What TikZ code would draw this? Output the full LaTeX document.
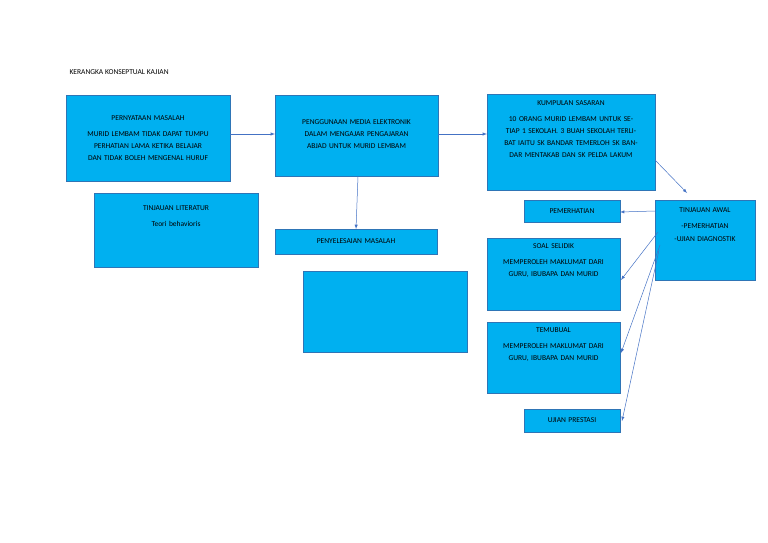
\documentclass[tikz,border=0pt]{standalone}
\usepackage{fontspec}
\setmainfont{Carlito}
\begin{document}
\begin{tikzpicture}[x=1pt,y=-1pt,
  box/.style={draw=black!40!cyan!70!blue,fill=cyan!70!blue!30!cyan,line width=0.6pt,inner sep=0pt},
  boxc/.style={fill={rgb,255:red,0;green,176;blue,240},draw={rgb,255:red,46;green,117;blue,182},line width=0.5pt},
  txt/.style={font=\fontsize{7.5}{12}\selectfont,align=center,text width=#1},
  arr/.style={draw={rgb,255:red,68;green,114;blue,196},line width=0.5pt,-latex}]
\useasboundingbox (0,0) rectangle (768,543);
\node[anchor=west,font=\fontsize{7.5}{9}\selectfont] (title) at (66,72) {KERANGKA KONSEPTUAL KAJIAN};
% boxes
\path[boxc] (66,95) rectangle (230,181) node[pos=.5,txt=160pt] (a) {PERNYATAAN MASALAH\\[4pt]MURID LEMBAM TIDAK DAPAT TUMPU PERHATIAN LAMA KETIKA BELAJAR DAN TIDAK BOLEH MENGENAL HURUF};
\coordinate (aE) at (230,134);
\path[boxc] (94,193) rectangle (258,267);
\node[txt=160pt,anchor=north] (lit) at (176,202) {TINJAUAN LITERATUR\\[4pt]Teori behavioris};
\path[boxc] (275,95) rectangle (438,176);
\node[txt=155pt] (b) at (356.5,134) {PENGGUNAAN MEDIA ELEKTRONIK DALAM MENGAJAR PENGAJARAN ABJAD UNTUK MURID LEMBAM};
\coordinate (bW) at (275,134); \coordinate (bE) at (438,134); \coordinate (bS) at (358,176);
\path[boxc] (275,229) rectangle (437,254);
\node[txt=155pt] (c) at (356,241.5) {PENYELESAIAN MASALAH};
\coordinate (cN) at (356,229);
\path[boxc] (303,271) rectangle (467,352); \coordinate (empty) at (385,311);
\path[boxc] (487,94) rectangle (655,190);
\node[txt=160pt,anchor=north] (d) at (571,97) {KUMPULAN SASARAN\\[4pt]10 ORANG MURID LEMBAM UNTUK SETIAP 1 SEKOLAH. 3 BUAH SEKOLAH TERLIBAT IAITU SK BANDAR TEMERLOH SK BANDAR MENTAKAB DAN SK PELDA LAKUM};
\coordinate (dW) at (487,134); \coordinate (dE) at (655,160);
\path[boxc] (655,200) rectangle (755,280);
\node[txt=98pt,anchor=north] (e) at (705,204) {TINJAUAN AWAL\\[4pt]-PEMERHATIAN\\[1pt]-UJIAN DIAGNOSTIK};
\coordinate (eN) at (687,193);
\path[boxc] (524,200) rectangle (620,222);
\node[txt=95pt] (f) at (572,211) {PEMERHATIAN};
\path[boxc] (487,238) rectangle (620,310);
\node[txt=130pt,anchor=north] (g) at (553.5,240) {SOAL SELIDIK\\[4pt]MEMPEROLEH MAKLUMAT DARI GURU, IBUBAPA DAN MURID};
\path[boxc] (487,322) rectangle (620,393);
\node[txt=130pt,anchor=north] (h) at (553.5,324) {TEMUBUAL\\[4pt]MEMPEROLEH MAKLUMAT DARI GURU, IBUBAPA DAN MURID};
\path[boxc] (524,409) rectangle (620,432);
\node[txt=95pt] (i) at (572,420.5) {UJIAN PRESTASI};
% arrows
\draw[arr] (aE) -- (bW);
\draw[arr] (bE) -- (dW);
\draw[arr] (bS) -- (cN);
\draw[arr] (dE) -- (eN);
\coordinate (e1) at (655,211); \coordinate (e2) at (658,232); \coordinate (e3) at (660,245); \coordinate (e4) at (659,250);
\draw[arr] (e1) -- (620,212);
\draw[arr] (e2) -- (621,280);
\draw[arr] (e3) -- (621,353);
\draw[arr] (e4) -- (622,421);
\end{tikzpicture}
\end{document}
